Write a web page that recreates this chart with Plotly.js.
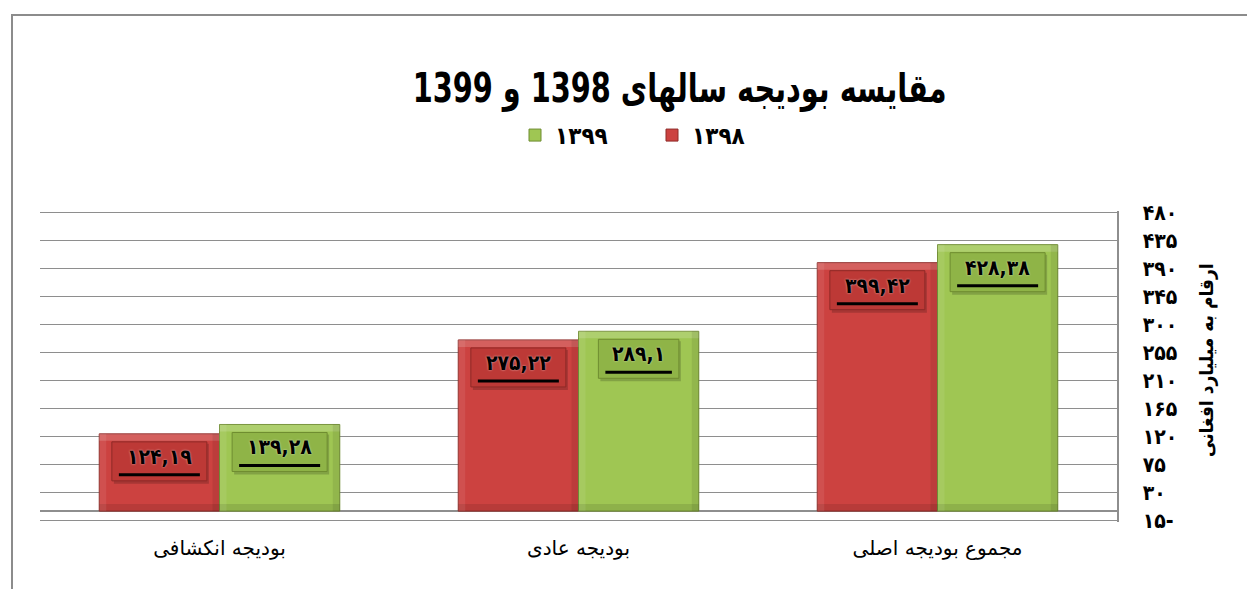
<!DOCTYPE html>
<html>
<head>
<meta charset="utf-8">
<script src="https://cdn.plot.ly/plotly-3.0.1.min.js"></script>
<style>
html,body{margin:0;padding:0;background:#fff;}
#frame{position:absolute;left:11px;top:14px;width:1236px;height:575px;border-top:2px solid #8c8c8c;border-left:2px solid #8c8c8c;box-sizing:border-box;}
#chart{position:absolute;left:0;top:0;width:1247px;height:589px;}
#chart .gtitle{transform-box:fill-box;transform-origin:center;transform:scaleX(0.8);}
</style>
</head>
<body>
<div id="frame"></div>
<div id="chart"></div>
<script>
const categories = ['بودیجه انکشافی', 'بودیجه عادی', 'مجموع بودیجه اصلی'];
const seriesNames = ['۱۳۹۸', '۱۳۹۹'];
const values1398 = [124.19, 275.22, 399.42];
const values1399 = [139.28, 289.1, 428.38];
const tickVals = [-15, 30, 75, 120, 165, 210, 255, 300, 345, 390, 435, 480];
const tickText = ['۱۵-', '۳۰', '۷۵', '۱۲۰', '۱۶۵', '۲۱۰', '۲۵۵', '۳۰۰', '۳۴۵', '۳۹۰', '۴۳۵', '۴۸۰'];

const fa = s => String(s).replace(/[0-9]/g, d => '۰۱۲۳۴۵۶۷۸۹'[+d]).replace('.', ',');

const redFill = '#cc4240', redBox = '#bd3936', redEdge = '#8e2a27';
const greenFill = '#9fc653', greenBox = '#8fb447', greenEdge = '#6f8c30';
const bargap = 0.33;
const off = (1 - bargap) / 4;
const W = 1247, H = 589, M = {l: 40, r: 130, t: 211, b: 67};
const barPx = (W - M.l - M.r) / categories.length * (1 - bargap) / 2;

const traces = [
  {type: 'bar', name: seriesNames[0], x: categories, y: values1398,
   marker: {color: redFill, line: {color: redEdge, width: 1}}, hoverinfo: 'y'},
  {type: 'bar', name: seriesNames[1], x: categories, y: values1399,
   marker: {color: greenFill, line: {color: greenEdge, width: 1}}, hoverinfo: 'y'}
];

const labelFont = 'DejaVu Sans Condensed, DejaVu Sans';
const annotations = [];
const shapes = [];
function addLabels(vals, sign, bg, edge) {
  vals.forEach((v, i) => {
    const t = fa(v);
    const cx = i + sign * off;
    const bw = 14.5 * t.length + 8;
    const hb = barPx / 2, bev = 7;
    // bevel bands on the bar
    shapes.push({type: 'rect', layer: 'above', xref: 'x', yref: 'y', xsizemode: 'pixel', xanchor: cx,
      ysizemode: 'pixel', yanchor: v, x0: -hb, x1: hb, y0: 0, y1: -bev,
      fillcolor: 'rgba(255,255,255,0.16)', line: {width: 0}});
    shapes.push({type: 'rect', layer: 'above', xref: 'x', yref: 'y', xsizemode: 'pixel', xanchor: cx,
      ysizemode: 'pixel', yanchor: 0, x0: -hb, x1: hb, y0: 0, y1: bev,
      fillcolor: 'rgba(0,0,0,0.10)', line: {width: 0}});
    shapes.push({type: 'rect', layer: 'above', xref: 'x', yref: 'y', xsizemode: 'pixel', xanchor: cx,
      y0: 0, y1: v, x0: hb - bev, x1: hb,
      fillcolor: 'rgba(0,0,0,0.08)', line: {width: 0}});
    shapes.push({type: 'rect', layer: 'above', xref: 'x', yref: 'y', xsizemode: 'pixel', xanchor: cx,
      y0: 0, y1: v, x0: -hb, x1: -hb + bev,
      fillcolor: 'rgba(255,255,255,0.08)', line: {width: 0}});
    // label box shadow, box, underline
    shapes.push({type: 'rect', layer: 'above', xref: 'x', yref: 'y', xsizemode: 'pixel', xanchor: cx,
      ysizemode: 'pixel', yanchor: v, x0: -bw / 2 + 2, x1: bw / 2 + 2, y0: -10, y1: -50,
      fillcolor: 'rgba(0,0,0,0.18)', line: {width: 0}});
    shapes.push({type: 'rect', layer: 'above', xref: 'x', yref: 'y', xsizemode: 'pixel', xanchor: cx,
      ysizemode: 'pixel', yanchor: v, x0: -bw / 2, x1: bw / 2, y0: -8, y1: -47,
      fillcolor: bg, line: {color: edge, width: 1}});
    shapes.push({type: 'line', layer: 'above', xref: 'x', yref: 'y', xsizemode: 'pixel', xanchor: cx,
      ysizemode: 'pixel', yanchor: v, x0: -bw / 2 + 7, x1: bw / 2 - 7, y0: -41, y1: -41,
      line: {color: '#000', width: 3}});
    annotations.push({
      x: cx, y: v, xref: 'x', yref: 'y',
      yanchor: 'middle', yshift: -23, showarrow: false,
      text: '<b>' + t + '</b>',
      font: {family: labelFont, size: 21, color: '#000', shadow: '0px 0px 2px rgba(255,255,255,0.7)'}
    });
  });
}
addLabels(values1398, -1, redBox, redEdge);
addLabels(values1399, 1, greenBox, greenEdge);

annotations.push({
  xref: 'paper', yref: 'paper', x: 1.095, y: 0.52, showarrow: false,
  text: '<b>ارقام به میلیارد افغانی</b>', textangle: -90,
  font: {family: labelFont, size: 19, color: '#000'}
});

const layout = {
  width: W, height: H,
  margin: M,
  paper_bgcolor: 'rgba(0,0,0,0)', plot_bgcolor: 'rgba(0,0,0,0)',
  title: {
    text: '<b>مقایسه بودیجه سالهای 1398 و 1399</b>',
    xref: 'container', yref: 'container', x: 0.545, y: 0.85,
    xanchor: 'center', yanchor: 'middle',
    font: {family: labelFont, size: 40, color: '#000'}
  },
  showlegend: true,
  legend: {
    orientation: 'h', traceorder: 'reversed',
    x: 0.413, xanchor: 'left', y: 0.77, yanchor: 'middle',
    xref: 'container', yref: 'container',
    entrywidth: 92,
    font: {family: labelFont, size: 24, color: '#000', weight: 'bold'}
  },
  barmode: 'group', bargap: bargap, bargroupgap: 0,
  xaxis: {
    type: 'category', showgrid: false, showline: false, ticks: '',
    tickfont: {family: 'DejaVu Sans, Liberation Sans', size: 20, color: '#000'},
    ticklabelstandoff: 12
  },
  yaxis: {
    side: 'right', range: [-17.5, 482.5], tickmode: 'array',
    tickvals: tickVals, ticktext: tickText,
    showgrid: true, gridcolor: '#8e8e8e', gridwidth: 1.5,
    zeroline: true, zerolinecolor: '#8e8e8e', zerolinewidth: 1.5,
    showline: true, linecolor: '#8e8e8e', linewidth: 1.5,
    ticks: '', ticklabelstandoff: 20,
    tickfont: {family: labelFont, size: 21, color: '#000', weight: 'bold'}
  },
  shapes: shapes,
  annotations: annotations
};

Plotly.newPlot('chart', traces, layout, {displayModeBar: false, staticPlot: true});
</script>
</body>
</html>
